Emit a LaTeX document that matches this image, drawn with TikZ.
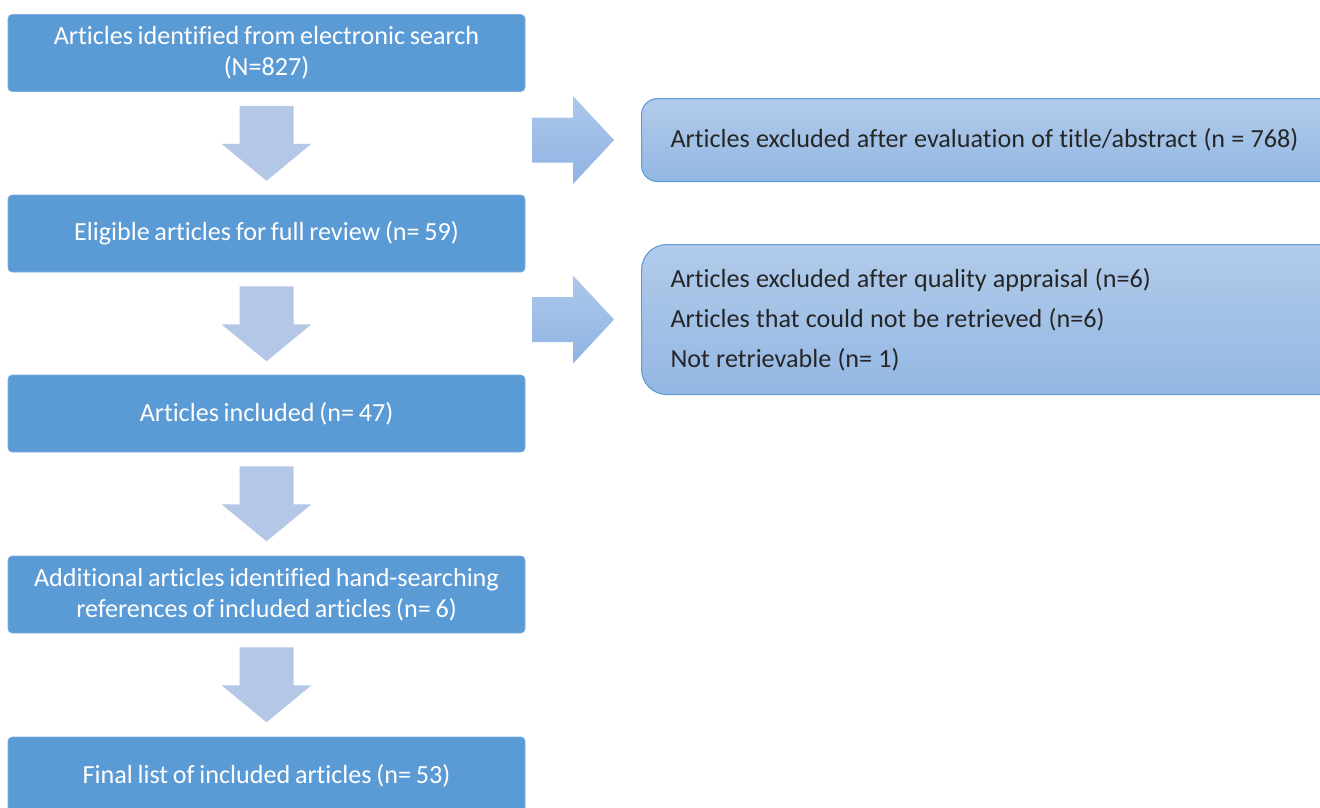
\documentclass[tikz,border=0pt]{standalone}
\usepackage{fontspec}
\setmainfont[Ligatures=NoCommon,WordSpace=0.8]{Carlito}
\usetikzlibrary{calc}
\definecolor{mainblue}{HTML}{5B9BD5}
\definecolor{downarrow}{HTML}{B4C7E7}
\definecolor{rtop}{HTML}{B1CBEA}
\definecolor{rbot}{HTML}{93B7E3}
\definecolor{atop}{HTML}{ADC7EB}
\definecolor{abot}{HTML}{8FB4E3}
\definecolor{rborder}{HTML}{5F9BD8}
\definecolor{darktext}{HTML}{262626}
\begin{document}
\begin{tikzpicture}[x=0.75pt,y=-0.75pt,
  mainbox/.style={rectangle, rounded corners=3pt, fill=mainblue, draw=mainblue!80!white,
    text=white, align=center, minimum width={517*0.75pt}, minimum height={77*0.75pt},
    inner sep=0pt, font=\fontsize{19.6}{23.5}\selectfont},
  sidebox/.style={rectangle, top color=rtop, bottom color=rbot, draw=rborder, line width=0.8pt,
    text=darktext, align=left, anchor=north west, inner xsep={29*0.75pt}, inner ysep=0pt,
    font=\fontsize{19.6}{30}\selectfont, execute at begin node={\spaceskip=0.24em\relax}},
  rightarr/.style={top color=atop, bottom color=abot, draw=none}
]
\useasboundingbox (0,0) rectangle (1320,807);
\clip (0,0) rectangle (1320,807);
\fill[white] (0,0) rectangle (1320,807);

% main column
\node[mainbox] (b1) at (266.5,53) {Articles identified from electronic search\\(N=827)};
\node[mainbox] (b2) at (266.5,233.5) {Eligible articles for full review (n= 59)};
\node[mainbox] (b3) at (266.5,413.5) {Articles included (n= 47)};
\node[mainbox] (b4) at (266.5,594.5) {Additional articles identified hand-searching\\references of included articles (n= 6)};
\node[mainbox] (b5) at (266.5,775.5) {Final list of included articles (n= 53)};

% side boxes
\node[sidebox, rounded corners=12pt, minimum height={83*0.75pt}, text width={650*0.75pt}] (s1) at (641,98)
  {Articles excluded after evaluation of title/abstract (n = 768)};
\node[sidebox, rounded corners=19pt, minimum height={150*0.75pt}, text width={650*0.75pt}] (s2) at (641,244)
  {Articles excluded after quality appraisal (n=6)\\Articles that could not be retrieved (n=6)\\Not retrievable (n= 1)};

% down block arrows
\foreach \a in {b1,b2,b3,b4}{
  \path let \p1=(\a.south) in coordinate (t\a) at (\x1,\y1);
  \fill[downarrow] ($(t\a)+(-27,14)$) -- ($(t\a)+(27,14)$) -- ($(t\a)+(27,52)$) -- ($(t\a)+(45,52)$)
    -- ($(t\a)+(0,89)$) -- ($(t\a)+(-45,52)$) -- ($(t\a)+(-27,52)$) -- cycle;
}

% right block arrows
\foreach \s in {s1,s2}{
  \path let \p1=(\s.west) in coordinate (w\s) at (\x1,\y1);
  \path[rightarr] ($(w\s)+(-109,-22.5)$) -- ($(w\s)+(-68,-22.5)$) -- ($(w\s)+(-68,-44)$)
    -- ($(w\s)+(-27,0)$) -- ($(w\s)+(-68,44)$) -- ($(w\s)+(-68,22.5)$) -- ($(w\s)+(-109,22.5)$) -- cycle;
}
\end{tikzpicture}
\end{document}
